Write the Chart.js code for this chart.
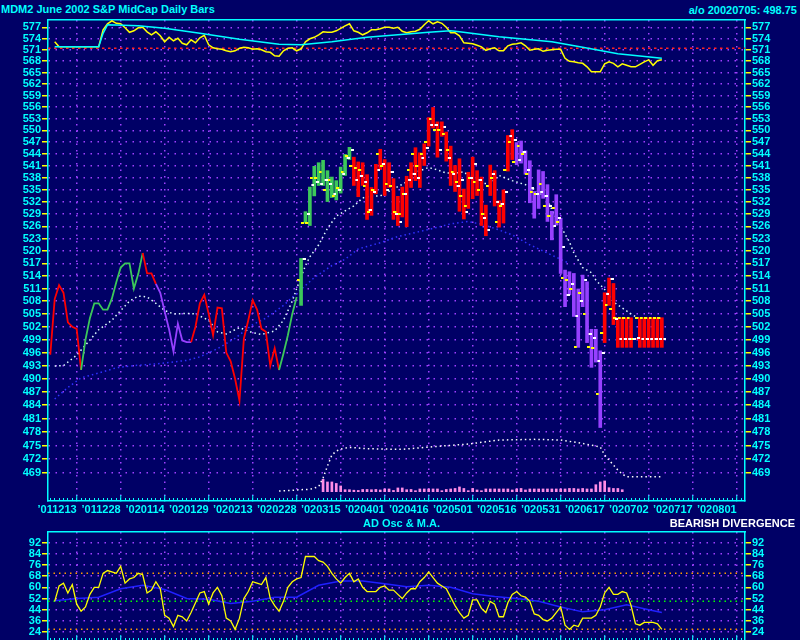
<!DOCTYPE html>
<html><head>
<meta charset="UTF-8">
<title>MDM2 June 2002 S&amp;P MidCap Daily Bars</title>
<style>
  body, html { margin: 0; padding: 0; }
  body {
    width: 800px; height: 640px; overflow: hidden; position: relative;
    background: #000066; color: #00ffff;
    font: bold 11px "Liberation Sans", Arial, sans-serif;
  }
  .lbl { position: absolute; white-space: nowrap; line-height: 13px; }
  canvas { position: absolute; left: 0; }
  #main { top: 0; }
  #osc { top: 520px; }
</style>
<script src="https://cdn.jsdelivr.net/npm/chart.js@4.4.0/dist/chart.umd.min.js"></script>
</head>
<body>
<div class="lbl" style="left:1px;top:3px">MDM2 June 2002 S&amp;P MidCap Daily Bars</div>
<div class="lbl" style="right:3px;top:4px">a/o 20020705: 498.75</div>
<canvas id="main" width="800" height="520"></canvas>
<canvas id="osc" width="800" height="140"></canvas>
<div class="lbl" style="left:363px;top:517px">AD Osc &amp; M.A.</div>
<div class="lbl" style="right:5px;top:517px;color:#ffffff">BEARISH DIVERGENCE</div>
<script>
// day numbers: 0 = '011213, one unit per trading day, labels every 10 days
const dateLabels = ['\u2019011213', '\u2019011228', '\u2019020114', '\u2019020129', '\u2019020213', '\u2019020228', '\u2019020315', '\u2019020401',
  '\u2019020416', '\u2019020501', '\u2019020516', '\u2019020531', '\u2019020617', '\u2019020702', '\u2019020717', '\u2019020801'];
const priceTicks = [577, 574, 571, 568, 565, 562, 559, 556, 553, 550, 547, 544, 541, 538, 535, 532, 529, 526, 523, 520,
  517, 514, 511, 508, 505, 502, 499, 496, 493, 490, 487, 484, 481, 478, 475, 472, 469];
const adoTicks = [92, 84, 76, 68, 60, 52, 44, 36, 28];
const adoTickLabels = ['92', '84', '76', '68', '60', '52', '44', '36', '24'];

// thinly traded early period, daily values drawn as a line
const thinStart = -6;
const thinClose = [495.5, 508.5, 511.8, 510, 503, 502, 501.5, 492, 499, 504,
  507.5, 507.5, 506, 506, 508.6, 512.5, 516, 517, 517, 511,
  514.5, 519.5, 514.6, 514.6, 512.1, 510, 505.5, 501.4, 496.2, 502.7,
  498.8, 498.4, 498.4, 502, 507.5, 509.5, 505, 500, 506.5, 506.3,
  496, 494, 490, 485, 499.2, 503.5, 508.2, 506, 501.5, 500.8,
  493, 497, 492, 495.8, 500, 505, 509];
const thinColor = 'rrrrrrrrggggggggggggggrrrpppppppprrrrrrrrrrrrrrrrrrrrgggg';

// daily bars from day 51
const barStart = 51;
const barColor = 'gggggggggggg' + 'rrrrrrrrrrrrrrrrrrrrrrrrrrrrrrrrrrrrr' + 'pppppppppppppppppppp' + 'rrrrrrrrrrrrrr';
const barHigh = [518.2,
  529.6, 535.7, 540.9, 541.8, 542.4, 539.8, 538.2, 537.3, 540.7, 543.9, 545.7,
  543.2, 542.0, 541.8, 538.8, 535.6, 541.4, 545.2, 542.6, 541.8, 537.8, 533.4, 535.7, 538.4, 541.8, 545.6, 544.3, 546.6, 553.3,
  555.9, 552.2, 552.2, 549.6, 546.0, 541.1, 542.8, 535.2, 539.4, 543.2, 539.8, 538.2, 531.2, 541.2, 539.8, 532.3, 535.0, 548.7, 550.2,
  546.9, 547.3, 544.8, 542.3, 534.6, 540.0, 539.6, 536.3, 529.7, 533.8, 528.0, 515.4, 515.0, 514.6, 510.9, 514.2, 512.6, 501.4, 501.4, 496.4,
  510, 513.5, 512.2, 504.1, 504.1, 504.1, 504.1, 499.3, 504.1, 504.1, 504.1, 504.1, 504.1, 504.1];
const barLow = [507,
  526.8, 526.2, 533.5, 536.1, 536.1, 532.1, 533.1, 532.5, 534.2, 538.6, 542.6,
  536.1, 533.3, 536.1, 527.7, 528.7, 534.0, 540.1, 533.6, 535.6, 527.7, 526.2, 528.3, 525.9, 535.6, 537.3, 535.6, 541.1, 546.0,
  550.6, 543.2, 548.5, 542.2, 536.1, 534.6, 529.7, 527.8, 530.4, 532.8, 533.6, 526.2, 523.7, 533.6, 531.0, 525.8, 526.8, 539.7, 542.6,
  541.3, 541.7, 538.9, 531.8, 528.0, 530.4, 532.9, 527.2, 522.7, 526.3, 514.6, 506.7, 509.5, 504.4, 497.2, 506.7, 498.3, 492.6, 493.8, 479.0,
  498.3, 507, 502.5, 497.2, 497.2, 497.2, 497.2, 499.1, 497.2, 497.2, 497.2, 497.2, 497.2, 497.2];
const barOpen = [513,
  526.8, 526.7, 538, 538, 539.5, 535, 537.5, 533.5, 535.5, 539.5, 543.5,
  541, 540.5, 540, 536, 529.5, 535, 544, 541, 536.5, 536, 529.5, 529, 534, 540, 544, 541, 544, 547,
  553, 550, 550, 549, 545, 539.5, 537, 533.5, 531, 538, 537, 535, 529, 536, 538, 527, 531, 540, 547,
  542, 546, 544, 539, 534.5, 534, 536.5, 531, 528.5, 530.5, 527, 513.5, 513, 511, 497.2, 510, 505, 497.2, 497, 486.6,
  500.5, 507.2, 506.2, 504.1, 504.1, 504.1, 504.1, 499.1, 504.1, 504.1, 504.1, 504.1, 504.1, 504.1];
const barClose = [518,
  529, 536.2, 537, 536.5, 537.5, 536.5, 534, 535, 539, 543, 545,
  537.5, 538.5, 537, 530, 534.5, 540, 541.5, 535, 539.5, 529, 527, 534, 537.5, 539, 538, 543, 545.5, 551.5,
  551.5, 545, 551, 543, 539, 536, 537.5, 529.5, 538, 541.5, 537.5, 528, 525, 539, 532, 531.5, 534.5, 548.5, 547.5,
  542.5, 544.5, 540, 535.5, 534, 534.5, 533.5, 531, 526, 528, 521, 509.5, 512, 504.5, 508, 513, 500.3, 499.3, 494, 496,
  509.8, 513.2, 503.7, 499.1, 499.1, 499.1, 499.1, 499.3, 499.1, 499.1, 499.1, 499.1, 499.1, 499.1];

// moving averages of price
const maFastDays = [-5, -3, 0, 3, 5, 8, 10, 12, 14, 16, 18, 20, 22, 25, 27, 30, 32, 34, 37, 40,
  42, 45, 47, 49, 50, 52, 53, 55, 57, 59, 61, 63, 65, 67, 69, 72, 75, 77, 80, 82,
  84, 86, 88, 90, 92, 94, 96, 99, 102, 105, 107, 108, 110, 112, 113, 115, 117, 118, 120, 122, 124, 126, 128];
const maFast = [492.9, 493, 495.4, 498.9, 501.3, 503.5, 505.8, 508, 509.2, 509, 507.5, 505.8, 505, 505.1, 505, 503.5, 500.8, 500.3, 501.8, 500.6,
  500.2, 501, 503.5, 508, 511, 516.5, 518.6, 521.5, 525.5, 528.5, 529.8, 531, 533, 533.5, 533.5, 535.2, 537, 539.4, 540.6, 540,
  539.2, 539.2, 539.5, 537.8, 536.6, 536.6, 538.6, 537.3, 536.3, 534.5, 532.5, 530.1, 526, 522.2, 519.5, 516, 514.8, 513, 510.8, 507.8, 506.4, 505, 503.8];
const maSlowDays = [-5, -2, 1, 5, 9, 13, 17, 20, 25, 28, 32, 36, 40, 43, 47, 51, 54, 58, 61, 64,
  69, 73, 77, 81, 85, 89, 92, 95, 99, 103, 106, 110, 112];
const maSlow = [485.4, 488, 490.2, 491.3, 492.5, 493, 493.3, 493.6, 494.2, 495, 496.9, 499.3, 502.5, 504, 507, 510.8, 513.6, 516.5, 518, 520.5,
  522, 523.5, 524.5, 525.5, 526.6, 527.2, 526.5, 525.5, 523.9, 521.5, 520, 518, 517];

// volume (contracts) and open interest
const volStart = 56;
const volume = [495, 390, 390, 330, 230, 80, 80, 60, 50, 90,
  90, 80, 90, 70, 110, 110, 50, 150, 150, 80,
  90, 40, 110, 110, 110, 110, 110, 40, 90, 110,
  130, 190, 130, 40, 130, 70, 40, 110, 110, 110,
  110, 110, 110, 70, 110, 130, 70, 110, 110, 110,
  110, 110, 110, 110, 110, 110, 130, 130, 110, 130,
  110, 110, 280, 390, 430, 160, 130, 130, 80];
const oiDays = [46, 49, 51, 53, 55, 56, 57, 58, 59, 60, 62, 66, 74, 81, 89, 96, 104, 110, 114, 118, 119, 120, 121, 122, 123, 124, 125, 133];
const openInterest = [210, 420, 600, 720, 1500, 4100, 7700, 11000, 12200, 12800, 13300, 12900, 12700, 13500, 14300, 15500,
  15700, 15500, 14700, 13700, 13400, 11000, 9500, 8000, 6500, 5300, 4500, 4500];

// relative strength vs index (top strip)
const rsStart = -5;
const relStrength = [1.013, 1.003, 1.003, 1.003, 1.003, 1.003, 1.003, 1.003, 1.003, 1.003,
  1.003, 1.037, 1.049, 1.055, 1.050, 1.049, 1.041, 1.032, 1.035, 1.041,
  1.042, 1.033, 1.027, 1.033, 1.025, 1.013, 1.022, 1.015, 1.020, 1.010,
  1.007, 1.017, 1.011, 1.021, 1.026, 1.007, 1.001, 0.999, 0.998, 0.995,
  0.993, 0.995, 1.000, 1.002, 1.001, 0.998, 0.999, 0.997, 0.993, 0.992,
  0.985, 0.984, 0.995, 1.000, 1.001, 0.995, 0.999, 1.013, 1.019, 1.022,
  1.027, 1.033, 1.032, 1.032, 1.035, 1.040, 1.045, 1.049, 1.035, 1.032,
  1.027, 1.031, 1.037, 1.037, 1.039, 1.042, 1.042, 1.040, 1.042, 1.034,
  1.031, 1.033, 1.034, 1.038, 1.047, 1.055, 1.049, 1.053, 1.050, 1.042,
  1.031, 1.031, 1.025, 1.011, 1.010, 1.009, 1.006, 1.003, 0.996, 0.999,
  1.001, 0.995, 0.995, 1.005, 1.008, 1.009, 1.011, 1.005, 0.996, 0.998,
  0.999, 0.994, 0.996, 0.997, 0.998, 0.998, 0.980, 0.974, 0.973, 0.971,
  0.970, 0.963, 0.953, 0.953, 0.953, 0.969, 0.973, 0.970, 0.963, 0.969,
  0.966, 0.963, 0.963, 0.968, 0.973, 0.977, 0.966, 0.975, 0.977];
const rsAvgDays = [-5, 5, 6, 7, 14, 20, 28, 37, 46, 51, 58, 66, 73, 80, 85, 87, 96, 108, 115, 123, 133];
const rsAvg = [1.003, 1.003, 1.030, 1.047, 1.045, 1.040, 1.030, 1.018, 1.008, 1.007, 1.013, 1.022, 1.027, 1.032, 1.035, 1.033,
  1.023, 1.013, 1.002, 0.989, 0.980];
const rsBase = 1.0;

// AD oscillator and its moving average
const adoStart = -5;
const adOsc = [50, 61, 63, 56, 62, 48, 43, 46, 55, 60,
  60, 70, 72, 71, 70, 75, 63, 66, 67, 70,
  69, 56, 58, 64, 59, 40, 38, 32, 40, 39,
  36, 42, 49, 56, 57, 48, 56, 60, 54, 38,
  36, 30, 38, 52, 57, 64, 63, 62, 67, 52,
  47, 43, 50, 60, 64, 66, 67, 82, 82, 82,
  79, 78, 75, 70, 66, 63, 67, 70, 64, 66,
  60, 57, 57, 57, 60, 61, 58, 58, 55, 52,
  56, 59, 59, 64, 67, 71, 67, 63, 61, 59,
  53, 47, 42, 38, 40, 51, 51, 45, 42, 50,
  48, 39, 39, 49, 55, 57, 54, 53, 50, 41,
  40, 37, 36, 38, 42, 46, 33, 30, 33, 32,
  38, 38, 38, 40, 46, 56, 60, 55, 55, 57,
  56, 47, 34, 33, 35, 35, 35, 34, 30];
const adoAvgDays = [-5, 0, 5, 10, 15, 20, 25, 30, 35, 40, 45, 50, 55, 60, 65, 70, 75, 80, 85, 90, 95, 100, 105, 110, 115, 120, 125, 130, 133];
const adoAvg = [50.5, 52, 53, 59, 61.5, 58.5, 52, 51.5, 48.5, 50, 53, 53, 61.5, 64.5, 64.5, 62.5, 60.5, 61.5, 60, 55.5,
  53.5, 52, 50, 46, 42.5, 44, 47.5, 44, 42];
const adoUpper = 70, adoMid = 50, adoLower = 30;

const cyan = '#00ffff', yellow = '#ffff00', purple = '#a040ff';
const palette = { r: '#ff0000', g: '#3cc85a', p: '#9640ff' };
const xMin = -6.52, xMax = 151.9;

Chart.defaults.font = { family: '"Liberation Sans", Arial, sans-serif', size: 11, weight: 'bold' };
Chart.defaults.color = cyan;

// small open / close tick marks used as point styles
function tickMark(color, left) {
  const c = document.createElement('canvas');
  c.width = 9; c.height = 2;
  const g = c.getContext('2d');
  g.fillStyle = color;
  g.fillRect(left ? 0 : 6, 0, 3, 2);
  return c;
}
const openMark = tickMark(yellow, true);
const closeMark = tickMark('#ffffff', false);

function dayAxes() {
  return {
    x: {
      type: 'linear', position: 'bottom', min: xMin, max: xMax, bounds: 'data', weight: 1, offset: false,
      afterBuildTicks: s => { s.ticks = dateLabels.map((_, i) => ({ value: i * 10 })); },
      ticks: { color: cyan, padding: 8, align: 'end', maxRotation: 0, autoSkip: false, callback: (v, i) => dateLabels[i] },
      grid: { offset: false, color: purple, lineWidth: 1.5, tickLength: -6, tickColor: cyan, tickWidth: 1 },
      border: { color: cyan, width: 1.5, dash: [1.5, 5] },
      afterFit: s => { s.height = 19; }
    },
    xMinor: {
      type: 'linear', axis: 'x', position: 'bottom', min: xMin, max: xMax, bounds: 'data', weight: 0, offset: false,
      afterBuildTicks: s => {
        const t = [];
        for (let d = -6; d <= 151; d++) t.push({ value: d });
        s.ticks = t;
      },
      ticks: { display: false },
      grid: { offset: false, drawOnChartArea: false, tickLength: -3, tickColor: cyan, tickWidth: 1 },
      border: { display: false },
      afterFit: s => { s.height = 0; }
    },
    xTop: {
      type: 'linear', axis: 'x', position: 'top', min: xMin, max: xMax, bounds: 'data', offset: false,
      ticks: { display: false },
      grid: { display: false },
      border: { color: cyan, width: 1.5 },
      afterFit: s => { s.height = 0; }
    }
  };
}

function sideAxis(pos, extra) {
  return Object.assign({
    axis: 'y', position: pos, bounds: 'data',
    grid: { drawOnChartArea: pos === 'left', color: purple, lineWidth: 1.5, tickLength: 6, tickColor: yellow, tickWidth: 1.5 },
    border: { color: cyan, width: 1.5, dash: [1.5, 5.5] },
    afterFit: s => { s.width = pos === 'left' ? 48 : 55; }
  }, extra);
}

function priceAxis(pos) {
  return sideAxis(pos, {
    type: 'logarithmic', min: 462.9, max: 579.0,
    afterBuildTicks: s => { s.ticks = priceTicks.map(v => ({ value: v })); },
    ticks: { color: cyan, padding: 1, autoSkip: false, callback: v => String(v) }
  });
}

const hidden = (min, max) => ({ type: 'linear', axis: 'y', position: 'left', display: false, bounds: 'data', min, max });
const pts = (days, vals) => vals.map((v, i) => ({ x: days[i], y: v }));
const seq = (start, vals) => vals.map((v, i) => ({ x: start + i, y: v }));
const span = v => [{ x: xMin, y: v }, { x: xMax, y: v }];

new Chart(document.getElementById('main'), {
  type: 'bar',
  data: {
    datasets: [
      { type: 'line', data: pts(maSlowDays, maSlow), borderColor: '#3030ff', borderWidth: 1.5, borderDash: [1.5, 3],
        pointRadius: 0, order: 9 },
      { type: 'line', data: pts(maFastDays, maFast), borderColor: '#e0ffff', borderWidth: 1.5, borderDash: [1.5, 3],
        pointRadius: 0, order: 8 },
      { type: 'line', yAxisID: 'yOi', data: pts(oiDays, openInterest), borderColor: '#ffffff', borderWidth: 1.5,
        borderDash: [1.5, 3], pointRadius: 0, order: 8 },
      { type: 'bar', yAxisID: 'yVol', data: seq(volStart, volume), backgroundColor: '#ff8ce6', barThickness: 2,
        grouped: false, order: 7 },
      { type: 'line', yAxisID: 'yRs', data: span(rsBase), borderColor: '#ff2020', borderWidth: 1.5, borderDash: [2.5, 3.5],
        pointRadius: 0, order: 6.5 },
      { type: 'line', yAxisID: 'yRs', data: seq(rsStart, relStrength), borderColor: yellow, borderWidth: 1.5,
        pointRadius: 0, order: 6 },
      { type: 'line', yAxisID: 'yRs', data: pts(rsAvgDays, rsAvg), borderColor: cyan, borderWidth: 1.5,
        pointRadius: 0, order: 5 },
      { type: 'line', data: seq(thinStart, thinClose), borderWidth: 1.8, pointRadius: 0, borderColor: palette.r,
        segment: { borderColor: c => palette[thinColor[c.p1DataIndex]] }, order: 4 },
      { type: 'bar', data: barHigh.map((h, i) => ({ x: barStart + i, y: [barLow[i], h] })),
        backgroundColor: c => palette[barColor[c.dataIndex]], barThickness: 3, grouped: false, order: 3 },
      { type: 'line', data: seq(barStart, barOpen), showLine: false, pointStyle: openMark, pointRadius: 3, order: 2 },
      { type: 'line', data: seq(barStart, barClose), showLine: false, pointStyle: closeMark, pointRadius: 3, order: 1 }
    ]
  },
  options: {
    responsive: false, animation: false, devicePixelRatio: 1,
    layout: { padding: { top: 20 } },
    plugins: { legend: { display: false }, tooltip: { enabled: false } },
    scales: Object.assign(dayAxes(), {
      y: priceAxis('left'),
      yRight: priceAxis('right'),
      yRs: hidden(0.0946, 1.0566),
      yVol: hidden(-372, 18868),
      yOi: hidden(-2790, 141510)
    })
  }
});

function adoAxis(pos) {
  return sideAxis(pos, {
    type: 'linear', min: 21.7, max: 99.5,
    afterBuildTicks: s => { s.ticks = adoTicks.map(v => ({ value: v })); },
    ticks: { color: cyan, padding: 1, autoSkip: false, callback: (v, i) => adoTickLabels[i] }
  });
}

new Chart(document.getElementById('osc'), {
  type: 'line',
  data: {
    datasets: [
      { data: seq(adoStart, adOsc), borderColor: yellow, borderWidth: 1.3, pointRadius: 0, order: 1 },
      { data: pts(adoAvgDays, adoAvg), borderColor: '#2020ff', borderWidth: 1.5, pointRadius: 0, order: 2 },
      { data: span(adoUpper), borderColor: '#ff9900', borderWidth: 1.5, borderDash: [1.5, 4], pointRadius: 0, order: 3 },
      { data: span(adoMid), borderColor: '#00ff00', borderWidth: 1.5, borderDash: [1.5, 4], pointRadius: 0, order: 3 },
      { data: span(adoLower), borderColor: '#ff9900', borderWidth: 1.5, borderDash: [1.5, 4], pointRadius: 0, order: 3 }
    ]
  },
  options: {
    responsive: false, animation: false, devicePixelRatio: 1,
    layout: { padding: { top: 12 } },
    plugins: { legend: { display: false }, tooltip: { enabled: false } },
    scales: Object.assign(dayAxes(), {
      y: adoAxis('left'),
      yRight: adoAxis('right')
    })
  }
});
</script>
</body></html>
